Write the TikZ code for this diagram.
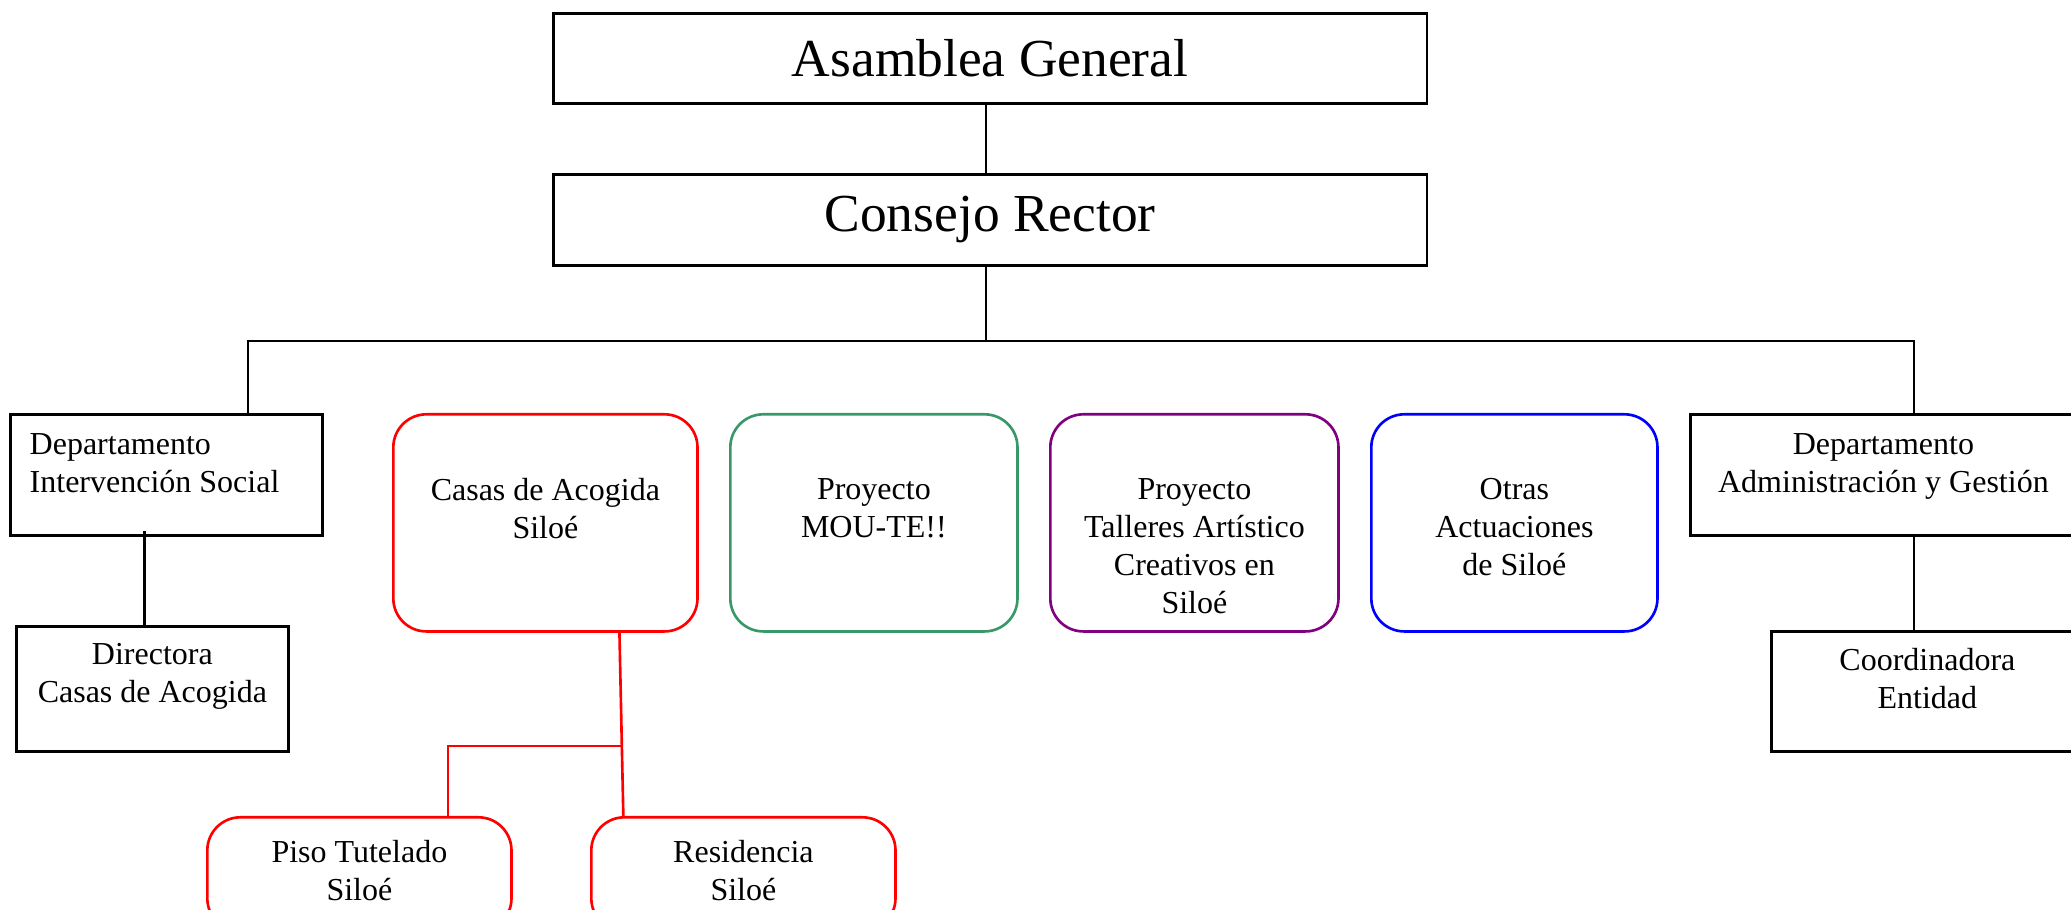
\documentclass[tikz,border=0pt]{standalone}
\usepackage{fontspec}
\setmainfont{Liberation Serif}
\usetikzlibrary{positioning}

\definecolor{rojo}{RGB}{255,0,0}
\definecolor{verde}{RGB}{56,152,104}
\definecolor{morado}{RGB}{128,0,128}
\definecolor{azul}{RGB}{0,0,255}

\tikzset{
	caja/.style = {draw, rectangle, line width=0.75pt, inner sep=0pt, anchor=north west},
	cajared/.style = {caja, rounded corners=0.33cm, minimum width=3.04cm, minimum height=2.17cm},
	grande/.style = {font=\fontsize{15.2}{18}\selectfont},
	texto/.style = {inner sep=0pt, align=center, anchor=north, font=\fontsize{9.1}{10.8}\selectfont},
	linea/.style = {line width=0.65pt},
	linearoja/.style = {line width=0.75pt, draw=rojo}
}

\begin{document}
\begin{tikzpicture}[x=0.01cm, y=-0.01cm]
	\useasboundingbox (0,0) rectangle (2071,910);

	% organos de gobierno
	\node[caja, grande, minimum width=8.73cm, minimum height=0.9cm] (asamblea) at (552,12) {Asamblea General};
	\node[caja, grande, minimum width=8.73cm, minimum height=0.91cm] (consejo) at (552,173) {Consejo Rector};

	% departamentos y proyectos
	\node[caja, minimum width=3.12cm, minimum height=1.21cm] (dis) at (9,413) {};
	\node[cajared, draw=rojo] (casas) at (392,413) {};
	\node[cajared, draw=verde, minimum width=2.87cm] (mou) at (729,413) {};
	\node[cajared, draw=morado, minimum width=2.88cm] (talleres) at (1049,413) {};
	\node[cajared, draw=azul, minimum width=2.86cm] (otras) at (1370,413) {};
	\node[caja, minimum width=3.86cm, minimum height=1.21cm] (das) at (1689,413) {};

	\node[caja, minimum width=2.72cm, minimum height=1.25cm] (dir) at (15,625) {};
	\node[caja, minimum width=3.12cm, minimum height=1.2cm] (coord) at (1770,630) {};
	\node[cajared, draw=rojo, minimum height=1.14cm] (piso) at (206,816) {};
	\node[cajared, draw=rojo, minimum height=1.14cm] (residencia) at (590,816) {};

	% textos
	\node[texto, anchor=north west, align=left] (dis-t) at ([xshift=0.2cm, yshift=-0.2cm]dis.north west) {Departamento\\Intervención Social};
	\node[texto] (casas-t) at ([yshift=-0.65cm]casas.north) {Casas de Acogida\\Siloé};
	\node[texto] (mou-t) at ([yshift=-0.65cm]mou.north) {Proyecto\\MOU-TE!!};
	\node[texto] (talleres-t) at ([yshift=-0.65cm]talleres.north) {Proyecto\\Talleres Artístico\\Creativos en\\Siloé};
	\node[texto] (otras-t) at ([yshift=-0.65cm]otras.north) {Otras\\Actuaciones\\de Siloé};
	\node[texto] (das-t) at ([yshift=-0.2cm]das.north) {Departamento\\Administración y Gestión};
	\node[texto] (dir-t) at ([yshift=-0.18cm]dir.north) {Directora\\Casas de Acogida};
	\node[texto] (coord-t) at ([yshift=-0.18cm]coord.north) {Coordinadora\\Entidad};
	\node[texto] (piso-t) at ([yshift=-0.24cm]piso.north) {Piso Tutelado\\Siloé};
	\node[texto] (residencia-t) at ([yshift=-0.24cm]residencia.north) {Residencia\\Siloé};

	% conexiones
	\coordinate (barraI) at (248,341);
	\coordinate (barraD) at (1914,341);
	\draw[linea] ([xshift=-0.04cm]asamblea.south) -- ([xshift=-0.04cm]consejo.north);
	\draw[linea] ([xshift=-0.04cm]consejo.south) -- ([xshift=-0.04cm]consejo.south |- barraI);
	\draw[linea] (barraI |- dis.north) -- (barraI) -- (barraD) -- (barraD |- das.north);
	\draw[linea] ([xshift=-0.08cm]dir.north) -- ([xshift=-0.08cm, yshift=0.06cm]dir.north |- dis.south);
	\draw[linea] (barraD |- das.south) -- (barraD |- coord.north);

	\coordinate (nudo) at (621,746);
	\coordinate (codo) at (448,746);
	\draw[linearoja] ([xshift=0.74cm]casas.south) -- ([xshift=-1.2cm]residencia.north);
	\draw[linearoja] (nudo) -- (codo) -- (codo |- piso.north);
\end{tikzpicture}
\end{document}
